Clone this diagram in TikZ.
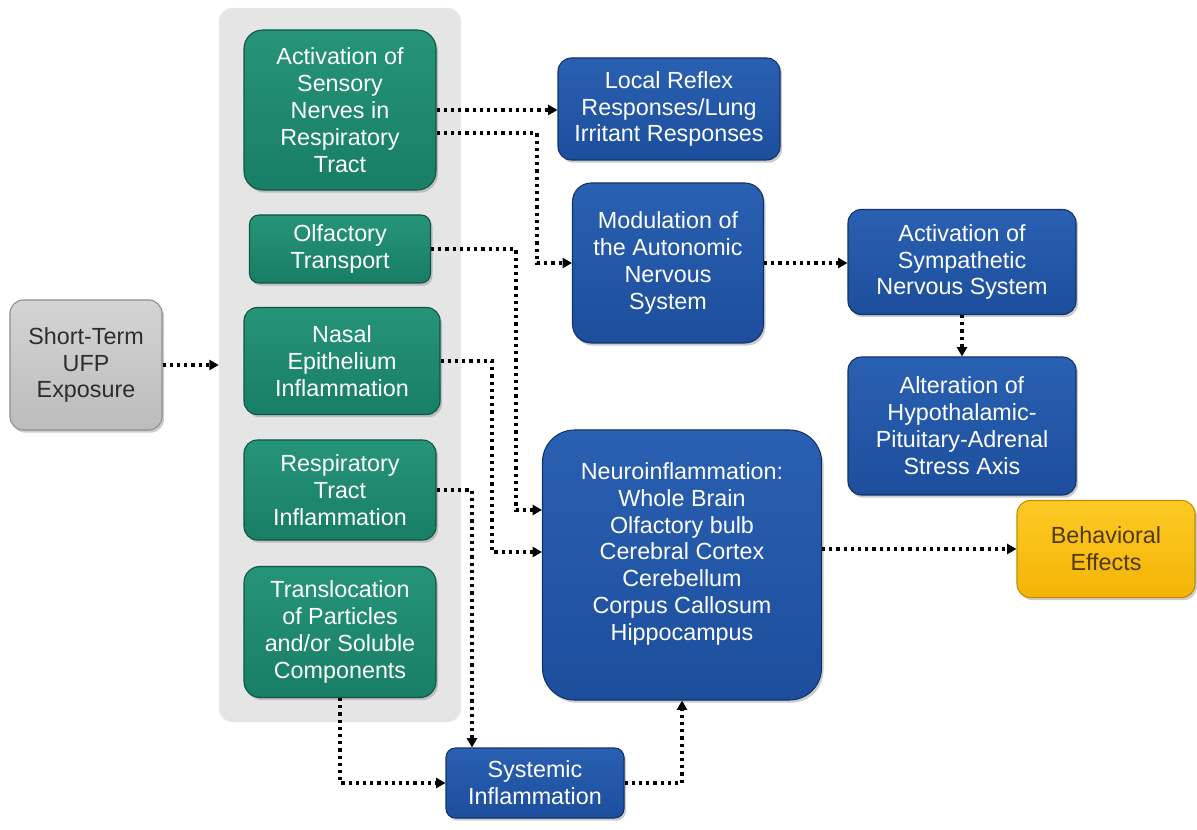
\documentclass[tikz,border=0pt]{standalone}
\usepackage{fontspec}
\setmainfont{Liberation Sans}
\usetikzlibrary{arrows.meta,shadows,calc}
\definecolor{grn}{RGB}{24,126,102}
\definecolor{grnT}{RGB}{38,148,120}
\definecolor{grnD}{RGB}{14,86,68}
\definecolor{blu}{RGB}{28,78,156}
\definecolor{bluT}{RGB}{42,96,178}
\definecolor{bluD}{RGB}{18,50,110}
\definecolor{gryF}{RGB}{188,188,188}
\definecolor{gryT}{RGB}{212,212,212}
\definecolor{gryD}{RGB}{140,140,140}
\definecolor{yel}{RGB}{244,180,6}
\definecolor{yelT}{RGB}{252,202,36}
\definecolor{yelD}{RGB}{196,138,0}
\definecolor{pnl}{RGB}{229,229,229}
\definecolor{gtxt}{RGB}{45,45,45}
\definecolor{ytxt}{RGB}{80,58,8}
\begin{document}
\begin{tikzpicture}[x=0.75pt,y=-0.75pt,
  base/.style={rectangle, rounded corners=10pt, align=center, inner sep=0pt,
    line width=0.8pt, font=\fontsize{17.5}{20.2}\selectfont,
    drop shadow={shadow xshift=1.5pt, shadow yshift=-2pt, opacity=0.4}},
  gbox/.style={base, draw=grnD, top color=grnT, bottom color=grn, text=white},
  bbox/.style={base, draw=bluD, top color=bluT, bottom color=blu, text=white},
  graybox/.style={base, draw=gryD, top color=gryT, bottom color=gryF, text=gtxt},
  ybox/.style={base, draw=yelD, top color=yelT, bottom color=yel, text=ytxt},
  panelbox/.style={rectangle, rounded corners=10pt, fill=pnl, inner sep=0pt},
  arr/.style={line width=2.3pt, dash pattern=on 2.4pt off 3pt, line cap=butt,
    -{Triangle[length=7pt,width=7.5pt]}},
]
\useasboundingbox (0,0) rectangle (1197,830);

% panel
\node[panelbox, minimum width=181.5pt, minimum height=535.5pt] (panel) at (340,365) {};

% left
\node[graybox, minimum width=114pt, minimum height=97.5pt] (ufp) at (86,365) {Short-Term\\UFP\\Exposure};

% green column
\node[gbox, rounded corners=14pt, minimum width=144pt, minimum height=120pt] (act) at (340,110)
  {Activation of\\Sensory\\Nerves in\\Respiratory\\Tract};
\node[gbox, rounded corners=7pt, minimum width=135.75pt, minimum height=51pt] (olf) at (340,249)
  {Olfactory\\Transport};
\node[gbox, minimum width=147pt, minimum height=80.25pt] (nasal) at (342,361)
  {Nasal\\Epithelium\\Inflammation};
\node[gbox, minimum width=144pt, minimum height=75pt] (resp) at (340,490)
  {Respiratory\\Tract\\Inflammation};
\node[gbox, rounded corners=12pt, minimum width=144pt, minimum height=98.25pt] (trans) at (340,632)
  {Translocation\\of Particles\\and/or Soluble\\Components};

% blue boxes
\node[bbox, minimum width=166.5pt, minimum height=76.5pt] (local) at (669,109)
  {Local Reflex\\Responses/Lung\\Irritant Responses};
\node[bbox, rounded corners=14pt, minimum width=143.25pt, minimum height=120pt] (mod) at (668,263)
  {Modulation of\\the Autonomic\\Nervous\\System};
\node[bbox, minimum width=171pt, minimum height=78.75pt] (symp) at (962,262)
  {Activation of\\Sympathetic\\Nervous System};
\node[bbox, minimum width=171pt, minimum height=103.5pt] (hpa) at (962,426)
  {Alteration of\\Hypothalamic-\\Pituitary-Adrenal\\Stress Axis};
\node[bbox, rounded corners=24pt, minimum width=209.25pt, minimum height=202.5pt] (neuro) at (682,565)
  {Neuroinflammation:\\Whole Brain\\Olfactory bulb\\Cerebral Cortex\\Cerebellum\\Corpus Callosum\\Hippocampus\\\mbox{}};
\node[bbox, rounded corners=7pt, minimum width=133.5pt, minimum height=52.5pt] (sys) at (535,783)
  {Systemic\\Inflammation};

% yellow
\node[ybox, minimum width=133.5pt, minimum height=72.75pt] (behav) at (1106,549)
  {Behavioral\\Effects};

% connectors
\draw[arr] (ufp.east) -- (ufp.east -| panel.west);
\draw[arr] (act.east) -- (act.east -| local.west);
\draw[arr] ($(act.east)+(0,23)$) -| ($(mod.west)+(-35,0)$) -- (mod.west);
\draw[arr] (olf.east) -| ($(neuro.west)+(-26,-55)$) -- ($(neuro.west)+(0,-55)$);
\draw[arr] (nasal.east) -| ($(neuro.west)+(-50,-13)$) -- ($(neuro.west)+(0,-13)$);
\draw[arr] (resp.east) -| ($(sys.north)+(-63,0)$);
\draw[arr] (trans.south) |- (sys.west);
\draw[arr] (sys.east) -| (neuro.south);
\draw[arr] (mod.east) -- (mod.east -| symp.west);
\draw[arr] (symp.south) -- (hpa.north);
\draw[arr] (behav.west -| neuro.east) -- (behav.west);
\end{tikzpicture}
\end{document}
